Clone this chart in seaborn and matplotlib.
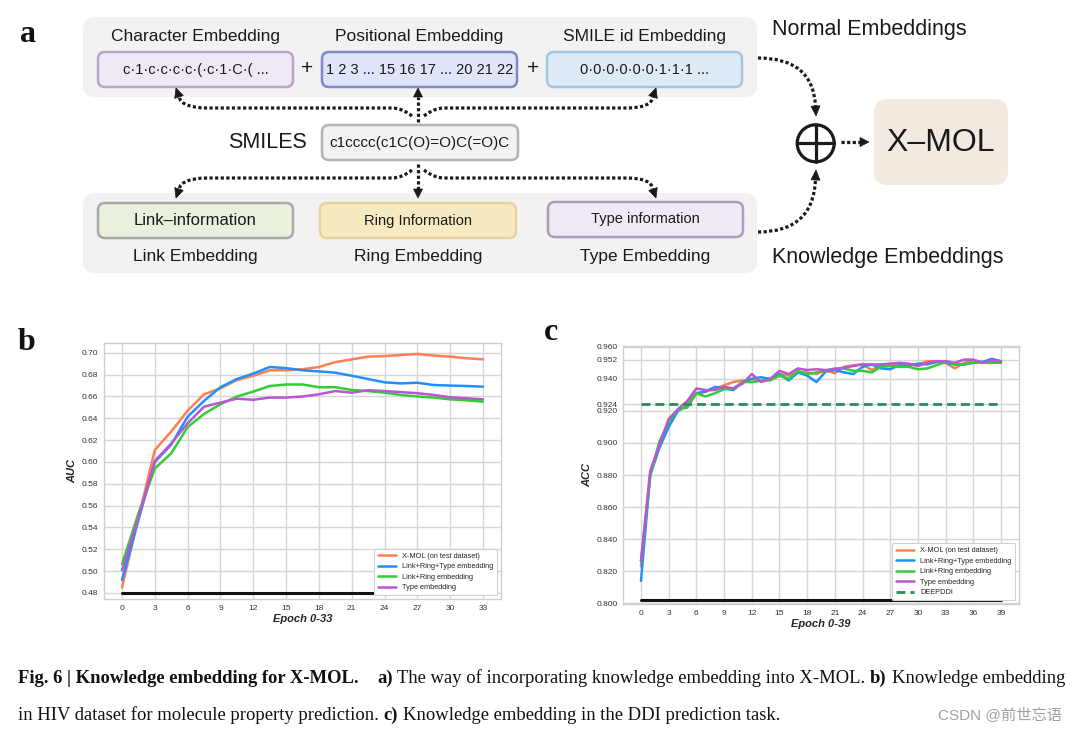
import matplotlib
matplotlib.use("Agg")

import matplotlib.pyplot as plt
import seaborn as sns
from matplotlib.patches import FancyBboxPatch, Circle, PathPatch, Polygon
from matplotlib.path import Path
import numpy as np

# ---- panel b: AUC on HIV dataset ----
b_epochs = [0, 1.5, 3, 4.5, 6, 7.5, 9, 10.5, 12, 13.5, 15, 16.5, 18, 19.5,
            21, 22.5, 24, 25.5, 27, 28.5, 30, 31.5, 33]
b_xmol = [0.485, 0.549, 0.611, 0.628, 0.647, 0.662, 0.6675, 0.675, 0.679, 0.684,
          0.684, 0.685, 0.687, 0.6915, 0.694, 0.6965, 0.697, 0.698, 0.699, 0.6975,
          0.6965, 0.695, 0.694]
b_lrt = [0.492, 0.547, 0.600, 0.616, 0.6415, 0.656, 0.6685, 0.676, 0.681, 0.687,
         0.686, 0.684, 0.683, 0.6818, 0.679, 0.676, 0.673, 0.672, 0.6726, 0.6705,
         0.670, 0.6696, 0.669]
b_lr = [0.5065, 0.553, 0.594, 0.608, 0.632, 0.644, 0.653, 0.660, 0.6645, 0.6696,
        0.671, 0.671, 0.6685, 0.6685, 0.666, 0.665, 0.6635, 0.6614, 0.660, 0.659,
        0.6574, 0.6565, 0.6553]
b_type = [0.5007, 0.549, 0.601, 0.617, 0.6355, 0.6507, 0.6544, 0.658, 0.657, 0.659,
          0.659, 0.660, 0.662, 0.665, 0.6635, 0.6657, 0.665, 0.664, 0.663, 0.6614,
          0.6593, 0.6584, 0.6574]
b_floor = 0.48
b_xticks = [0, 3, 6, 9, 12, 15, 18, 21, 24, 27, 30, 33]
b_yticks = [0.48, 0.50, 0.52, 0.54, 0.56, 0.58, 0.60, 0.62, 0.64, 0.66, 0.68, 0.70]

# ---- panel c: ACC on DDI task ----
c_epochs = list(range(40))
c_xmol = [0.823, 0.881, 0.899, 0.912, 0.921, 0.926, 0.931, 0.932, 0.934, 0.936,
          0.938, 0.939, 0.938, 0.939, 0.940, 0.943, 0.942, 0.944, 0.944, 0.943,
          0.9455, 0.9435, 0.9475, 0.9485, 0.949, 0.9455, 0.9485, 0.9485, 0.9485, 0.9485,
          0.949, 0.951, 0.951, 0.950, 0.9465, 0.950, 0.9515, 0.9505, 0.951, 0.951]
c_lrt = [0.814, 0.880, 0.897, 0.910, 0.920, 0.923, 0.931, 0.932, 0.935, 0.934,
         0.933, 0.938, 0.940, 0.941, 0.940, 0.943, 0.939, 0.944, 0.942, 0.938,
         0.9445, 0.9455, 0.944, 0.943, 0.9475, 0.949, 0.9465, 0.946, 0.9485, 0.948,
         0.9495, 0.949, 0.9505, 0.950, 0.949, 0.949, 0.950, 0.9505, 0.9525, 0.951]
c_lr = [0.826, 0.8795, 0.901, 0.913, 0.921, 0.922, 0.931, 0.929, 0.931, 0.9335,
        0.934, 0.938, 0.938, 0.939, 0.939, 0.942, 0.940, 0.945, 0.943, 0.944,
        0.945, 0.9465, 0.9465, 0.945, 0.945, 0.944, 0.9475, 0.948, 0.9475, 0.9475,
        0.946, 0.9465, 0.9485, 0.9505, 0.949, 0.949, 0.9505, 0.950, 0.950, 0.950]
c_type = [0.8265, 0.8825, 0.899, 0.915, 0.921, 0.926, 0.934, 0.933, 0.933, 0.935,
          0.934, 0.937, 0.943, 0.938, 0.940, 0.945, 0.943, 0.9465, 0.9455, 0.946,
          0.9455, 0.946, 0.947, 0.948, 0.949, 0.949, 0.949, 0.9495, 0.950, 0.9495,
          0.948, 0.950, 0.951, 0.951, 0.950, 0.952, 0.952, 0.950, 0.9515, 0.951]
c_deepddi = 0.924
c_floor = 0.802
c_xticks = [0, 3, 6, 9, 12, 15, 18, 21, 24, 27, 30, 33, 36, 39]
c_yticks = [0.800, 0.820, 0.840, 0.860, 0.880, 0.900, 0.920, 0.924, 0.940, 0.952, 0.960]

series_labels = ["X-MOL (on test dataset)", "Link+Ring+Type embedding",
                 "Link+Ring embedding", "Type embedding"]
series_colors = ["#FF7F50", "#1E90FF", "#32CD32", "#BA55D3"]

# ---- panel a: diagram texts ----
normal_titles = ["Character Embedding", "Positional Embedding", "SMILE id Embedding"]
normal_contents = ["c·1·c·c·c·c·(·c·1·C·( ...", "1 2 3 ... 15 16 17 ... 20 21 22",
                   "0·0·0·0·0·0·1·1·1 ..."]
knowledge_titles = ["Link Embedding", "Ring Embedding", "Type Embedding"]
knowledge_contents = ["Link\u2013information", "Ring Information", "Type information"]
smiles_string = "c1cccc(c1C(O)=O)C(=O)C"

caption_line1 = [("Fig. 6 | Knowledge embedding for X-MOL.", True, 4),
                 ("a)", True, 1),
                 ("The way of incorporating knowledge embedding into X-MOL.", False, 1),
                 ("b)", True, 1),
                 ("Knowledge embedding", False, 0)]
caption_line2 = [("in HIV dataset for molecule property prediction.", False, 1),
                 ("c)", True, 1),
                 ("Knowledge embedding in the DDI prediction task.", False, 0)]
watermark = "CSDN @前世忘语"

sns.set_theme(style="whitegrid")
plt.rcParams["font.family"] = ["Liberation Sans", "DejaVu Sans"]

fig = plt.figure(figsize=(10.78, 7.33), dpi=100)
ov = fig.add_axes([0, 0, 1, 1])
ov.set_xlim(0, 1078)
ov.set_ylim(733, 0)
ov.axis("off")

INK = "#1a1a1a"


def rbox(x0, y0, x1, y1, face, edge="none", lw=0.0, r=6):
    ov.add_patch(FancyBboxPatch((x0 + r, y0 + r), x1 - x0 - 2 * r, y1 - y0 - 2 * r,
                                boxstyle=f"round,pad={r}", fc=face, ec=edge, lw=lw))


def dotted(verts, codes, tip):
    ov.add_patch(PathPatch(Path(verts, codes), fill=False, lw=2.3, ec=INK,
                           ls=(0, (1, 0.75)), capstyle="butt"))
    base = np.array(verts[-1], float)
    tip = np.array(tip, float)
    d = (tip - base) / np.linalg.norm(tip - base)
    n = np.array([-d[1], d[0]])
    ov.add_patch(Polygon([tip, base + n * 4.5, base - n * 4.5], closed=True,
                         fc=INK, ec=INK, lw=0.5))


M, L, Q = Path.MOVETO, Path.LINETO, Path.CURVE3

# gray groups
rbox(83, 17, 757, 97, "#f2f2f2", r=12)
rbox(83, 193, 757, 273, "#f2f2f2", r=12)

top_boxes = [(98, 293, "#efe9f5", "#b6a7c9"), (322, 517, "#e0e4f8", "#7f89c8"),
             (547, 742, "#deebf7", "#a3c6e2")]
for (x0, x1, fc, ec), title, content in zip(top_boxes, normal_titles, normal_contents):
    rbox(x0, 52, x1, 87, fc, ec, lw=1.8, r=7)
    cx = (x0 + x1) / 2
    ov.text(cx, 37, title, ha="center", va="center", fontsize=12.5, color=INK)
    ov.text(cx, 70, content, ha="center", va="center", fontsize=10.5, color=INK)
for px in (307, 533):
    ov.text(px, 68, "+", ha="center", va="center", fontsize=15, color=INK)

bot_boxes = [(98, 293, 203, 238, "#e9f1de", "#a9a9a9", 12),
             (320, 516, 203, 238, "#f8eac0", "#e6d49c", 10.5),
             (548, 743, 202, 237, "#f0eaf4", "#ab9dbd", 10.5)]
for (x0, x1, y0, y1, fc, ec, fs), title, content in zip(bot_boxes, knowledge_titles,
                                                         knowledge_contents):
    rbox(x0, y0, x1, y1, fc, ec, lw=1.8, r=7)
    cx = (x0 + x1) / 2
    ov.text(cx, (y0 + y1) / 2, content, ha="center", va="center", fontsize=fs, color=INK)
    ov.text(cx, 256, title, ha="center", va="center", fontsize=12.5, color=INK)

rbox(322, 125, 518, 160, "#f3f3f3", "#b4b4b4", lw=1.8, r=7)
ov.text(420, 143, smiles_string, ha="center", va="center", fontsize=11, color=INK)
ov.text(307, 143, "SMILES", ha="right", va="center", fontsize=15.5, color=INK)

ov.text(772, 30, "Normal Embeddings", ha="left", va="center", fontsize=15.5, color=INK)
ov.text(772, 257, "Knowledge Embeddings", ha="left", va="center", fontsize=15.5, color=INK)

rbox(874, 99, 1008, 185, "#f2e9e1", r=14)
ov.text(941, 143, "X\u2013MOL", ha="center", va="center", fontsize=23, color=INK)

ov.add_patch(Circle((815.7, 143.3), 18.5, fill=False, ec=INK, lw=2.3))
ov.plot([815.7 - 18.5, 815.7 + 18.5], [143.3, 143.3], color=INK, lw=2.3)
ov.plot([815.7, 815.7], [143.3 - 18.5, 143.3 + 18.5], color=INK, lw=2.3)

# dotted arrows from SMILES
dotted([(418, 122), (418, 97)], [M, L], (418, 88))
dotted([(412, 116), (402, 108), (392, 108), (207, 108), (182, 108), (179, 97)],
       [M, Q, Q, L, Q, Q], (176, 88))
dotted([(424, 116), (434, 108), (444, 108), (627, 108), (651, 108), (653, 97)],
       [M, Q, Q, L, Q, Q], (656, 88))
dotted([(418, 164), (418, 189)], [M, L], (418, 198))
dotted([(412, 170), (402, 178), (392, 178), (207, 178), (182, 178), (179, 189)],
       [M, Q, Q, L, Q, Q], (176, 198))
dotted([(424, 170), (434, 178), (444, 178), (627, 178), (651, 178), (653, 189)],
       [M, Q, Q, L, Q, Q], (656, 198))
dotted([(758, 58), (813, 58), (815.5, 106)], [M, Q, Q], (816, 116))
dotted([(758, 232), (813, 232), (815.5, 180)], [M, Q, Q], (816, 170))
dotted([(841, 142), (860, 142)], [M, L], (869, 142))

# panel letters
for letter, lx, ly in [("a", 28, 35), ("b", 27, 342), ("c", 551, 333)]:
    ov.text(lx, ly, letter, ha="center", va="center", fontsize=23, fontweight="bold",
            family="Liberation Serif", color="#111111")

# caption with mixed bold / regular runs
renderer = fig.canvas.get_renderer()


def text_w(s, size, bold):
    t = ov.text(0, 0, s, fontsize=size, fontweight="bold" if bold else "normal",
                family="Liberation Serif")
    w = t.get_window_extent(renderer).width
    t.remove()
    return w


def layout(runs, x, y, size, draw):
    sp = text_w("x x", size, False) - text_w("xx", size, False)
    for s, bold, gap in runs:
        if draw:
            ov.text(x, y, s, fontsize=size, fontweight="bold" if bold else "normal",
                    family="Liberation Serif", ha="left", va="baseline", color="#111111")
        x += text_w(s, size, bold) + gap * sp
    return x


size = 13.0
xend = layout(caption_line1, 18, 683, size, False)
size *= (1063 - 18) / (xend - 18)
layout(caption_line1, 18, 683, size, True)
layout(caption_line2, 18, 720, size, True)
ov.text(1062, 715, watermark, ha="right", va="center", fontsize=11, color="#a0a0a0",
        family=["Liberation Sans", "Noto Sans CJK SC"])


def chart(rect, epochs, series, floor, xticks, yticks, ylim, ylabel, xlabel, fmt,
          extra=None):
    ax = fig.add_axes(rect)
    for values, label, color in zip(series, series_labels, series_colors):
        sns.lineplot(x=epochs, y=values, ax=ax, color=color, label=label, linewidth=1.8)
    if extra is not None:
        sns.lineplot(x=[epochs[0], epochs[-1]], y=[extra, extra], ax=ax,
                     color="#2e8b57", linestyle="--", label="DEEPDDI", linewidth=2.0)
        ax.lines[-1].set_dashes((3.2, 1.8))
    sns.lineplot(x=[epochs[0], epochs[-1]], y=[floor, floor], ax=ax, color="#111111",
                 linewidth=2.2)
    ax.set_xticks(xticks)
    ax.set_yticks(yticks)
    ax.set_yticklabels([fmt.format(v) for v in yticks])
    ax.set_ylim(*ylim)
    ax.tick_params(labelsize=6, labelcolor="#333333", length=0, pad=4)
    ax.grid(True, color="#d6d6d6", linewidth=1.0)
    for sp in ax.spines.values():
        sp.set_color("#cfcfcf")
        sp.set_linewidth(1.0)
    ax.set_xlabel(xlabel, fontsize=8, fontweight="bold", fontstyle="italic", labelpad=2)
    ax.set_ylabel(ylabel, fontsize=8, fontweight="bold", fontstyle="italic", labelpad=3)
    leg = ax.legend(loc="lower right", fontsize=5.3, framealpha=1, fancybox=True,
                    borderpad=0.55, labelspacing=0.45, handlelength=2.4)
    leg.get_frame().set_edgecolor("#d0d0d0")
    leg.get_frame().set_linewidth(0.8)
    return ax


chart([104 / 1078, 1 - 599 / 733, 397 / 1078, 256 / 733], b_epochs,
      [b_xmol, b_lrt, b_lr, b_type], b_floor, b_xticks, b_yticks, (0.4745, 0.709),
      "AUC", "Epoch 0-33", "{:.2f}")
chart([623 / 1078, 1 - 604 / 733, 396 / 1078, 258 / 733], c_epochs,
      [c_xmol, c_lrt, c_lr, c_type], c_floor, c_xticks, c_yticks, (0.7995, 0.9605),
      "ACC", "Epoch 0-39", "{:.3f}", extra=c_deepddi)

fig.savefig("out.png", dpi=100)
